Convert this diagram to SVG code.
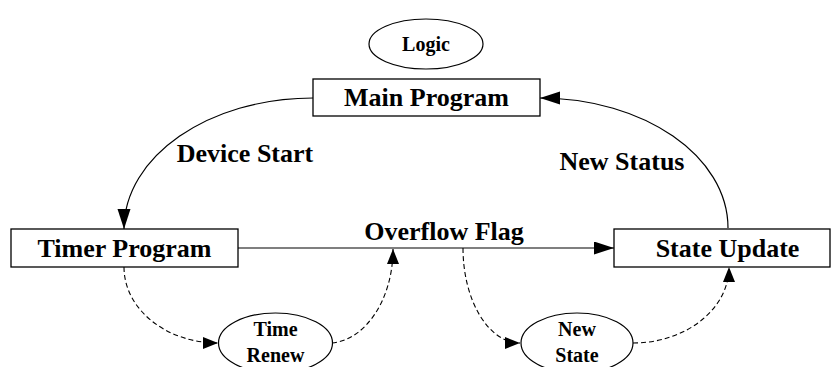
<svg xmlns="http://www.w3.org/2000/svg" width="831" height="367" viewBox="0 0 831 367">
  <style>
    .box { fill: #ffffff; stroke: #000000; stroke-width: 1.3; }
    .ell { fill: #ffffff; stroke: #000000; stroke-width: 1.2; }
    .lbl { font-family: "Liberation Serif", "Times New Roman", serif; font-weight: bold; font-size: 26px; fill: #000000; text-anchor: middle; }
    .sm { font-family: "Liberation Serif", "Times New Roman", serif; font-weight: bold; font-size: 20px; fill: #000000; text-anchor: middle; }
    .solid { fill: none; stroke: #000000; stroke-width: 1.2; }
    .dash { fill: none; stroke: #000000; stroke-width: 1.1; stroke-dasharray: 5 3; }
  </style>
  <defs>
    <marker id="ah" markerUnits="userSpaceOnUse" markerWidth="20" markerHeight="14" refX="20" refY="6.5" orient="auto">
      <path d="M0,0 L20,6.5 L0,13 z" fill="#000000"/>
    </marker>
    <marker id="ahs" markerUnits="userSpaceOnUse" markerWidth="15" markerHeight="13" refX="15" refY="6" orient="auto">
      <path d="M0,0 L15,6 L0,12 z" fill="#000000"/>
    </marker>
  </defs>
  <rect width="831" height="367" fill="#ffffff"/>

  <g id="connectors">
    <path class="solid" d="M313,98 C208.6,98 124,156.6 124,229" marker-end="url(#ah)"/>
    <path class="solid" d="M728,228 C728,156.2 643.8,98 540,98" marker-end="url(#ah)"/>
    <path class="solid" d="M238,248 L614,248" marker-end="url(#ah)"/>
    <path class="dash" d="M124,267 C124,309 166,343 218,343" marker-end="url(#ahs)"/>
    <path class="dash" d="M332,343 C365,340 393,300 393,249" marker-end="url(#ahs)"/>
    <path class="dash" d="M463,248 C463,300.5 488.5,343 520,343" marker-end="url(#ahs)"/>
    <path class="dash" d="M633,343 C686,343 729,309 729,267" marker-end="url(#ahs)"/>
    <text class="lbl" x="245" y="162">Device Start</text>
    <text class="lbl" x="622" y="170">New Status</text>
    <text class="lbl" x="444" y="240">Overflow Flag</text>
  </g>

  <g id="logic">
    <ellipse class="ell" cx="426" cy="44" rx="57" ry="25"/>
    <text class="sm" x="426" y="51">Logic</text>
  </g>
  <g id="main-program">
    <rect class="box" x="313" y="79" width="227" height="37"/>
    <text class="lbl" x="426.5" y="106">Main Program</text>
  </g>
  <g id="timer-program">
    <rect class="box" x="11" y="229" width="227" height="38"/>
    <text class="lbl" x="124.5" y="257">Timer Program</text>
  </g>
  <g id="state-update">
    <rect class="box" x="614" y="229" width="216" height="38"/>
    <text class="lbl" x="727.5" y="257">State Update</text>
  </g>
  <g id="time-renew">
    <ellipse class="ell" cx="275.5" cy="343" rx="57" ry="30"/>
    <text class="sm" x="275.5" y="336">Time</text>
    <text class="sm" x="275.5" y="362">Renew</text>
  </g>
  <g id="new-state">
    <ellipse class="ell" cx="577" cy="343" rx="56" ry="30"/>
    <text class="sm" x="577" y="336">New</text>
    <text class="sm" x="577" y="362">State</text>
  </g>
</svg>
